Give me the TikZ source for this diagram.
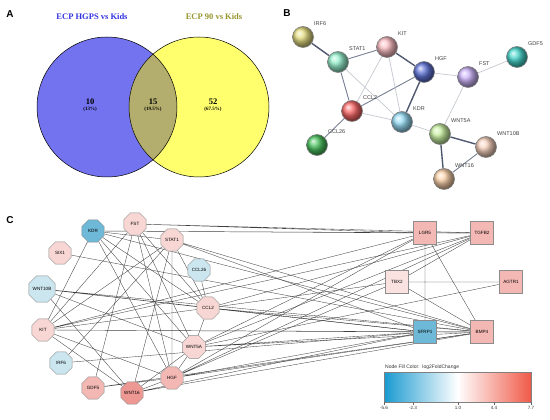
\documentclass[tikz,border=0pt]{standalone}
\usepackage{fontspec}
\setmainfont{Liberation Serif}
\setsansfont{Liberation Sans}
\usetikzlibrary{shapes.geometric}
\pgfdeclarelayer{background}
\pgfsetlayers{background,main}
\definecolor{vennblue}{RGB}{115,115,240}
\definecolor{vennyellow}{RGB}{255,255,110}
\definecolor{vennolive}{RGB}{180,174,110}
\definecolor{titleblue}{RGB}{50,50,225}
\definecolor{titleolive}{RGB}{150,150,45}
\definecolor{linkdark}{RGB}{80,88,112}
\definecolor{linkmid}{RGB}{120,128,148}
\definecolor{linklight}{RGB}{196,200,208}
\definecolor{upfaint}{RGB}{250,226,224}
\definecolor{uplow}{RGB}{248,214,212}
\definecolor{upmid}{RGB}{244,184,180}
\definecolor{uphigh}{RGB}{238,152,148}
\definecolor{downfaint}{RGB}{204,230,240}
\definecolor{downmid}{RGB}{110,185,215}
\definecolor{barblue}{RGB}{26,154,208}
\definecolor{barred}{RGB}{240,90,72}
\definecolor{bIRF}{RGB}{230,222,130}
\definecolor{bSTAT}{RGB}{150,240,205}
\definecolor{bKIT}{RGB}{252,190,195}
\definecolor{bHGF}{RGB}{95,115,215}
\definecolor{bFST}{RGB}{205,180,250}
\definecolor{bGDF}{RGB}{70,215,205}
\definecolor{bCCL}{RGB}{252,105,105}
\definecolor{bKDR}{RGB}{150,220,245}
\definecolor{bCCLb}{RGB}{75,195,95}
\definecolor{bWNTa}{RGB}{200,240,160}
\definecolor{bWNTb}{RGB}{248,210,190}
\definecolor{bWNTc}{RGB}{252,210,170}

\begin{document}
\begin{tikzpicture}[x=1pt,y=-1pt,
    panel/.style={font=\sffamily\bfseries\fontsize{10}{12}\selectfont},
    venntitle/.style={font=\bfseries\fontsize{8.5}{10}\selectfont},
    count/.style={font=\bfseries\fontsize{8.5}{9}\selectfont,align=center},
    ball/.style={circle,draw=black!50,line width=0.6pt,minimum size=21pt,inner sep=0pt},
    blabel/.style={font=\sffamily\fontsize{5.5}{6}\selectfont,text=black!75},
    strong/.style={draw=linkdark,line width=1.4pt},
    medium/.style={draw=linkmid,line width=0.9pt},
    weak/.style={draw=linklight,line width=0.7pt},
    oct/.style={regular polygon,regular polygon sides=8,draw=black!45,line width=0.4pt,
      minimum size=24pt,inner sep=0pt,font=\sffamily\fontsize{4.6}{5}\selectfont},
    sq/.style={rectangle,draw=black!45,line width=0.4pt,minimum size=23pt,inner sep=0pt,
      font=\sffamily\fontsize{4.6}{5}\selectfont},
    edge/.style={draw=black!75,line width=0.35pt}]
  \useasboundingbox (0,0) rectangle (550,420);

  % ---- A: Venn diagram
  \node[panel] (labA) at (10,14) {A};
  \fill[vennblue] (107,107) circle (70);
  \fill[vennyellow] (199,107) circle (70);
  \begin{scope}
    \clip (107,107) circle (70);
    \fill[vennolive] (199,107) circle (70);
  \end{scope}
  \draw[line width=0.5pt] (107,107) circle (70) (199,107) circle (70);
  \node[venntitle,text=titleblue] (setA) at (92,17) {ECP HGPS vs Kids};
  \node[venntitle,text=titleolive] (setB) at (214,17) {ECP 90 vs Kids};
  \node[count] (onlyA) at (90,105) {10\\[-3.5pt]{\fontsize{5}{5}\selectfont(13\%)}};
  \node[count] (both) at (153,105) {15\\[-3.5pt]{\fontsize{5}{5}\selectfont(19.5\%)}};
  \node[count] (onlyB) at (213,105) {52\\[-3.5pt]{\fontsize{5}{5}\selectfont(67.5\%)}};

  % ---- B: STRING network
  \node[panel] (labB) at (287,13) {B};
  \node[ball,ball color=bIRF,label={[blabel]45:IRF6}] (s-irf6) at (303,37) {};
  \node[ball,ball color=bSTAT,label={[blabel]45:STAT1}] (s-stat1) at (338,62) {};
  \node[ball,ball color=bKIT,label={[blabel]45:KIT}] (s-kit) at (387,47) {};
  \node[ball,ball color=bHGF,label={[blabel]45:HGF}] (s-hgf) at (424,72) {};
  \node[ball,ball color=bFST,label={[blabel]45:FST}] (s-fst) at (468,77) {};
  \node[ball,ball color=bGDF,label={[blabel]45:GDF5}] (s-gdf5) at (517,57) {};
  \node[ball,ball color=bCCL,label={[blabel]45:CCL2}] (s-ccl2) at (352,111) {};
  \node[ball,ball color=bKDR,label={[blabel]45:KDR}] (s-kdr) at (402,122) {};
  \node[ball,ball color=bCCLb,label={[blabel]45:CCL26}] (s-ccl26) at (317,145) {};
  \node[ball,ball color=bWNTa,label={[blabel]45:WNT5A}] (s-wnt5a) at (440,134) {};
  \node[ball,ball color=bWNTb,label={[blabel]45:WNT10B}] (s-wnt10b) at (486,147) {};
  \node[ball,ball color=bWNTc,label={[blabel]45:WNT16}] (s-wnt16) at (444,179) {};
  \begin{pgfonlayer}{background}
    \draw[strong] (s-irf6) -- (s-stat1) (s-kit) -- (s-hgf) (s-hgf) -- (s-kdr)
      (s-wnt5a) -- (s-wnt10b) (s-wnt5a) -- (s-wnt16);
    \draw[medium] (s-stat1) -- (s-kit) (s-stat1) -- (s-ccl2) (s-hgf) -- (s-ccl2)
      (s-ccl2) -- (s-ccl26) (s-wnt16) -- (s-wnt10b);
    \draw[weak] (s-stat1) -- (s-kdr) (s-kit) -- (s-ccl2) (s-kit) -- (s-kdr)
      (s-hgf) -- (s-fst) (s-fst) -- (s-gdf5) (s-fst) -- (s-wnt5a)
      (s-ccl2) -- (s-kdr) (s-kdr) -- (s-wnt5a);
  \end{pgfonlayer}

  % ---- C: interaction network
  \node[panel] (labC) at (10,220) {C};
  \node[oct,fill=downmid] (kdr) at (93,231) {KDR};
  \node[oct,fill=uplow] (fst) at (135,224) {FST};
  \node[oct,fill=uplow] (stat1) at (172,240) {STAT1};
  \node[oct,fill=uplow] (six1) at (60,253) {SIX1};
  \node[oct,fill=downfaint] (ccl26) at (199,270) {CCL26};
  \node[oct,fill=downfaint] (wnt10b) at (42,289) {WNT10B};
  \node[oct,fill=uplow] (ccl2) at (208,308) {CCL2};
  \node[oct,fill=uplow] (kit) at (43,330) {KIT};
  \node[oct,fill=uplow] (wnt5a) at (194,347) {WNT5A};
  \node[oct,fill=downfaint] (irf6) at (61,363) {IRF6};
  \node[oct,fill=upmid] (hgf) at (172,378) {HGF};
  \node[oct,fill=upmid] (gdf5) at (93,388) {GDF5};
  \node[oct,fill=uphigh] (wnt16) at (132,393) {WNT16};
  \node[sq,fill=upmid] (lgr5) at (425,233) {LGR5};
  \node[sq,fill=upmid] (tgfb2) at (482,233) {TGFB2};
  \node[sq,fill=upfaint] (tbx2) at (397,282) {TBX2};
  \node[sq,fill=upmid] (agtr1) at (511,282) {AGTR1};
  \node[sq,fill=downmid] (sfrp1) at (425,332) {SFRP1};
  \node[sq,fill=upmid] (bmp4) at (482,332) {BMP4};
  \begin{pgfonlayer}{background}
    \draw[edge] (kdr) -- (stat1) (kdr) -- (tgfb2) (kdr) -- (lgr5) (kdr) -- (ccl2)
      (kdr) -- (wnt5a) (kdr) -- (hgf) (kdr) -- (bmp4) (kdr) -- (kit);
    \draw[edge] (fst) -- (lgr5) (fst) -- (tgfb2) (fst) -- (gdf5) (fst) -- (hgf)
      (fst) -- (wnt5a) (fst) -- (ccl2) (fst) -- (kit);
    \draw[edge] (stat1) -- (kit) (stat1) -- (irf6) (stat1) -- (ccl2) (stat1) -- (wnt16)
      (stat1) -- (bmp4) (stat1) -- (sfrp1) (stat1) -- (hgf);
    \draw[edge] (six1) -- (bmp4) (ccl26) -- (ccl2);
    \draw[edge] (wnt10b) -- (ccl2) (wnt10b) -- (sfrp1) (wnt10b) -- (bmp4)
      (wnt10b) -- (wnt5a) (wnt10b) -- (wnt16);
    \draw[edge] (kit) -- (ccl2) (kit) -- (tgfb2) (kit) -- (lgr5) (kit) -- (sfrp1)
      (kit) -- (hgf) (kit) -- (bmp4) (kit) -- (wnt16);
    \draw[edge] (irf6) -- (sfrp1) (gdf5) -- (hgf) (gdf5) -- (bmp4);
    \draw[edge] (wnt16) -- (hgf) (wnt16) -- (sfrp1) (wnt16) -- (bmp4) (wnt16) -- (wnt5a);
    \draw[edge] (hgf) -- (wnt5a) (hgf) -- (sfrp1) (hgf) -- (bmp4) (hgf) -- (lgr5)
      (hgf) -- (tgfb2) (hgf) -- (tbx2);
    \draw[edge] (wnt5a) -- (ccl2) (wnt5a) -- (sfrp1) (wnt5a) -- (bmp4) (wnt5a) -- (tgfb2)
      (wnt5a) -- (lgr5) (wnt5a) -- (agtr1);
    \draw[edge] (ccl2) -- (bmp4) (ccl2) -- (sfrp1) (ccl2) -- (tgfb2) (ccl2) -- (tbx2);
    \draw[edge] (lgr5) -- (tgfb2) (lgr5) -- (sfrp1) (lgr5) -- (bmp4) (tgfb2) -- (tbx2)
      (tbx2) -- (bmp4) (tbx2) -- (agtr1) (sfrp1) -- (bmp4);
  \end{pgfonlayer}

  % legend
  \node[font=\sffamily\fontsize{5}{6}\selectfont,text=black!80,anchor=south west,inner sep=1pt]
    (legtitle) at (384,371) {Node Fill Color:\ \ log2FoldChange};
  \shade[left color=barblue,right color=barred,middle color=white] (384,372) rectangle (531,402);
  \draw[black!50,line width=0.3pt] (384,372) rectangle (531,402);
  \foreach \v/\px in {-5.6/384,-2.3/413,1.0/458,4.4/494,7.7/531}
    \draw[black!60,line width=0.3pt] (\px,402) -- (\px,405)
      node[below,font=\sffamily\fontsize{4.6}{5}\selectfont,text=black!80,inner sep=1pt] {\v};
\end{tikzpicture}
\end{document}
